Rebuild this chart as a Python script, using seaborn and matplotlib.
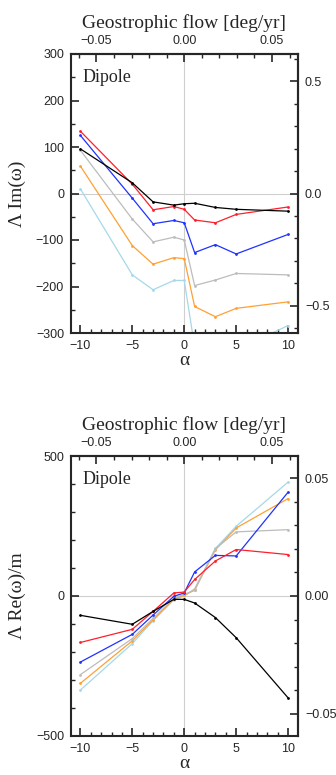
import matplotlib
matplotlib.use("Agg")
import matplotlib.pyplot as plt
import pandas as pd
import seaborn as sns
from matplotlib.ticker import FixedLocator, FuncFormatter

# alpha values sampled in both panels
alpha = [-10, -5, -3, -1, 0, 1, 3, 5, 10]
runs = ["lightblue", "orange", "gray", "blue", "red", "black"]
colors = ["#a6d8e8", "#ffa033", "#bcbcbc", "#1f32ff", "#ff1f2a", "#000000"]

# Lambda Im(omega)
im_lightblue = [10, -175, -207, -187, -187, -330, -345, -336, -284]
im_orange = [59, -112, -152, -138, -140, -243, -265, -247, -233]
im_gray = [93, -55, -104, -94, -100, -198, -186, -172, -175]
im_blue = [125, -10, -65, -58, -63, -127, -110, -130, -88]
im_red = [134, 20, -35, -28, -34, -57, -63, -45, -29]
im_black = [96, 23, -18, -25, -22, -21, -30, -34, -38]

# Lambda Re(omega)/m
re_lightblue = [-336, -170, -88, -14, 0, 26, 170, 249, 407]
re_orange = [-312, -160, -85, -10, 2, 22, 165, 243, 348]
re_gray = [-281, -152, -80, -8, 6, 20, 169, 229, 237]
re_blue = [-236, -137, -68, -1, 11, 86, 145, 143, 371]
re_red = [-166, -119, -55, 11, 14, 59, 125, 166, 148]
re_black = [-69, -101, -55, -12, -12, -25, -77, -149, -364]

# secondary-axis tick values
top_major = [-0.05, 0.0, 0.05]
top_minor = [-0.06, -0.04, -0.03, -0.02, -0.01, 0.01, 0.02, 0.03, 0.04, 0.06]
im_right_major = [-0.5, 0.0, 0.5]
im_right_minor = [-0.6, -0.4, -0.3, -0.2, -0.1, 0.1, 0.2, 0.3, 0.4, 0.6]
re_right_major = [-0.05, 0.0, 0.05]
re_right_minor = [-0.04, -0.03, -0.02, -0.01, 0.01, 0.02, 0.03, 0.04]

SERIF = ["Liberation Serif", "DejaVu Serif"]
K_TOP = 0.00592


def long_df(series):
	frames = []
	for name, vals in zip(runs, series):
		frames.append(pd.DataFrame({"alpha": alpha, "value": vals, "run": name}))
	return pd.concat(frames, ignore_index=True)


def minus_fmt(fmt):
	return FuncFormatter(lambda v, pos: (fmt % v).replace("-", "\u2212") if abs(v) > 1e-12 else fmt % 0)


def style_ticks(axis_obj):
	axis_obj.tick_params(which="major", direction="in", length=6, width=1.2, labelsize=9, pad=5)
	axis_obj.tick_params(which="minor", direction="in", length=3, width=1.0)


def draw_panel(ax, df, ylim, yticks, yminor, k_right, rmaj, rmin, rfmt, ylabel):
	ax.axhline(0, color="#cfcfcf", lw=0.8, zorder=0)
	ax.axvline(0, color="#cfcfcf", lw=0.8, zorder=0)
	sns.lineplot(data=df, x="alpha", y="value", hue="run", hue_order=runs,
		palette=dict(zip(runs, colors)), estimator=None, marker="o", markersize=2,
		markeredgewidth=0, linewidth=0.9, legend=False, ax=ax)
	ax.set_xlim(-10.9, 10.95)
	ax.set_ylim(*ylim)
	ax.xaxis.set_major_locator(FixedLocator([-10, -5, 0, 5, 10]))
	ax.xaxis.set_minor_locator(FixedLocator([v for v in range(-10, 11) if v % 5]))
	ax.yaxis.set_major_locator(FixedLocator(yticks))
	ax.yaxis.set_minor_locator(FixedLocator(yminor))
	ax.xaxis.set_major_formatter(minus_fmt("%d"))
	ax.yaxis.set_major_formatter(minus_fmt("%d"))
	style_ticks(ax)
	for sp in ax.spines.values():
		sp.set_visible(True)
		sp.set_linewidth(1.5)
	ax.set_xlabel("\u03b1", fontfamily=SERIF, fontsize=14, labelpad=0)
	ax.set_ylabel(ylabel, fontfamily=SERIF, fontsize=14, labelpad=7)
	ax.text(0.05, 0.915, "Dipole", transform=ax.transAxes, fontfamily=SERIF, fontsize=13, va="center")

	top = ax.secondary_xaxis("top", functions=(lambda a: a * K_TOP, lambda g: g / K_TOP))
	top.xaxis.set_major_locator(FixedLocator(top_major))
	top.xaxis.set_minor_locator(FixedLocator(top_minor))
	top.xaxis.set_major_formatter(minus_fmt("%.2f"))
	style_ticks(top)
	top.spines["top"].set_linewidth(1.5)
	top.set_xlabel("Geostrophic flow [deg/yr]", fontfamily=SERIF, fontsize=14, labelpad=5)

	right = ax.secondary_yaxis("right", functions=(lambda v: v * k_right, lambda r: r / k_right))
	right.yaxis.set_major_locator(FixedLocator(rmaj))
	right.yaxis.set_minor_locator(FixedLocator(rmin))
	right.yaxis.set_major_formatter(minus_fmt(rfmt))
	style_ticks(right)
	right.spines["right"].set_linewidth(1.5)


sns.set_style("ticks")
plt.rcParams["font.family"] = ["Liberation Sans", "DejaVu Sans"]

fig = plt.figure(figsize=(3.36, 7.75), dpi=100)
ax1 = fig.add_axes([71 / 336, 1 - 333 / 775, 227 / 336, 279 / 775])
ax2 = fig.add_axes([71 / 336, 1 - 736 / 775, 227 / 336, 280 / 775])

im_df = long_df([im_lightblue, im_orange, im_gray, im_blue, im_red, im_black])
re_df = long_df([re_lightblue, re_orange, re_gray, re_blue, re_red, re_black])

draw_panel(ax1, im_df, (-300, 300), [-300, -200, -100, 0, 100, 200, 300],
	[-250, -150, -50, 50, 150, 250], 0.5 / 241.5, im_right_major, im_right_minor, "%.1f",
	"\u039b Im(\u03c9)")
draw_panel(ax2, re_df, (-500, 500), [-500, 0, 500],
	[-400, -300, -200, -100, 100, 200, 300, 400], 0.05 / 420.4, re_right_major, re_right_minor, "%.2f",
	"\u039b Re(\u03c9)/m")

fig.savefig("out.png", dpi=100)
